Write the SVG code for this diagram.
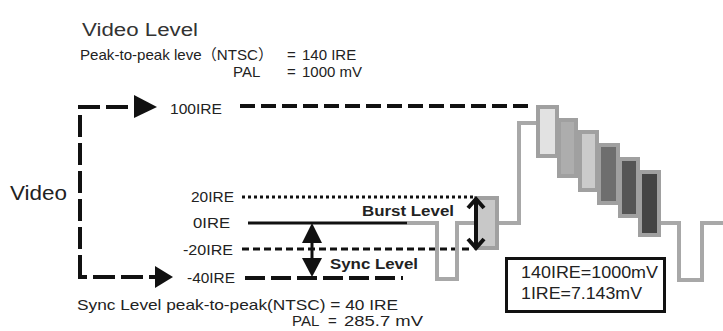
<svg xmlns="http://www.w3.org/2000/svg" width="723" height="331" viewBox="0 0 723 331">
<style>
text{font-family:"Liberation Sans","Noto Sans CJK SC",Arial,sans-serif;fill:#222;}
.t14{font-size:14px;}
.t15{font-size:15px;}
.b{font-weight:bold;font-size:14px;}
.wave{fill:none;stroke:#a8a8a8;stroke-width:4;}
.bar{stroke:#a0a0a0;stroke-width:4;}
.blk{fill:none;stroke:#111;}
</style>
<rect width="723" height="331" fill="#fff"/>
<g id="header">
<text x="82" y="36" style="font-size:18px;fill:#333" textLength="116" lengthAdjust="spacingAndGlyphs">Video Level</text>
<text x="80" y="60" class="t15" textLength="193" lengthAdjust="spacingAndGlyphs">Peak-to-peak leve（NTSC）</text>
<text x="287" y="60" class="t15">=</text>
<text x="302" y="60" class="t15">140  IRE</text>
<text x="233" y="77" class="t15">PAL</text>
<text x="287" y="77" class="t15">=</text>
<text x="302" y="77" class="t15">1000  mV</text>
</g>
<g id="video"><text x="10" y="200" style="font-size:20px" textLength="57" lengthAdjust="spacingAndGlyphs">Video</text></g>
<g id="labels">
<text x="170" y="114" class="t14" textLength="52" lengthAdjust="spacingAndGlyphs">100IRE</text>
<text x="191" y="202" class="t14" textLength="43" lengthAdjust="spacingAndGlyphs">20IRE</text>
<text x="193" y="228" class="t14" textLength="37" lengthAdjust="spacingAndGlyphs">0IRE</text>
<text x="183" y="255" class="t14" textLength="50" lengthAdjust="spacingAndGlyphs">-20IRE</text>
<text x="187" y="283" class="t14" textLength="48" lengthAdjust="spacingAndGlyphs">-40IRE</text>
<text x="362" y="216" class="b" textLength="92" lengthAdjust="spacingAndGlyphs">Burst Level</text>
<text x="330" y="269" class="b" textLength="88" lengthAdjust="spacingAndGlyphs">Sync Level</text>
</g>
<g id="connectors">
<path class="blk" d="M80,277 V107 H132" stroke-width="4" stroke-dasharray="22,6"/>
<polygon points="134,95 157,107 134,118" fill="#111"/>
<path class="blk" d="M80,262 V277 H155" stroke-width="4" stroke-dasharray="22,6"/>
<polygon points="155,266 173,277 155,288" fill="#111"/>
<line class="blk" x1="240" y1="106" x2="528" y2="106" stroke-width="4" stroke-dasharray="15,6"/>
<line class="blk" x1="242" y1="197" x2="473" y2="197" stroke-width="3" stroke-dasharray="3,3"/>
<line class="blk" x1="248" y1="223" x2="407" y2="223" stroke-width="3"/>
<line class="blk" x1="242" y1="249" x2="473" y2="249" stroke-width="3" stroke-dasharray="7,4"/>
<line class="blk" x1="245" y1="278" x2="403" y2="278" stroke-width="4" stroke-dasharray="20,6"/>
</g>
<g id="waveform">
<path class="wave" d="M407,223 H437 V279 H457 V223 H476"/>
<path class="wave" d="M498,223 H519 V123 H537"/>
<path class="wave" d="M660,223 H679 V280 H702 V223 H723"/>
<rect class="bar" x="476" y="198" width="21" height="50" fill="#c8c8c8"/>
<rect class="bar" x="538" y="107" width="19" height="49" fill="#e2e2e2"/>
<rect class="bar" x="559" y="120" width="17" height="56" fill="#adadad"/>
<rect class="bar" x="580" y="132" width="17" height="58" fill="#cbcbcb"/>
<rect class="bar" x="599" y="145" width="19" height="58" fill="#6e6e6e"/>
<rect class="bar" x="620" y="159" width="18" height="57" fill="#555"/>
<rect class="bar" x="640" y="172" width="19" height="63" fill="#444"/>
</g>
<g id="arrows">
<line class="blk" x1="476" y1="200" x2="476" y2="247" stroke-width="4"/>
<polyline class="blk" points="468,208 476,199 484,208" stroke-width="4"/>
<polyline class="blk" points="468,239 476,248 484,239" stroke-width="4"/>
<line class="blk" x1="312" y1="235" x2="312" y2="266" stroke-width="3"/>
<polygon points="312,223 322,243 302,243" fill="#111"/>
<polygon points="312,277 322,258 302,258" fill="#111"/>
</g>
<g id="legend">
<rect x="506.5" y="258.5" width="158" height="53" fill="#fff" stroke="#111" stroke-width="3"/>
<text x="521" y="278" style="font-size:16px" textLength="137" lengthAdjust="spacingAndGlyphs">140IRE=1000mV</text>
<text x="521" y="299" style="font-size:16px" textLength="121" lengthAdjust="spacingAndGlyphs">1IRE=7.143mV</text>
</g>
<g id="footer">
<text x="77" y="310" class="t15" textLength="321" lengthAdjust="spacingAndGlyphs">Sync Level peak-to-peak(NTSC) = 40 IRE</text>
<text x="292" y="326" class="t15">PAL</text>
<text x="328" y="326" class="t15">=</text>
<text x="344" y="326" class="t15" textLength="79" lengthAdjust="spacingAndGlyphs">285.7 mV</text>
</g>
</svg>
